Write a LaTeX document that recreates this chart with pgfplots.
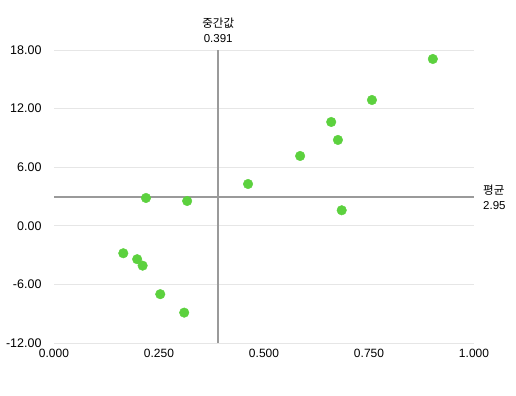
\documentclass[border=0pt]{standalone}
\usepackage{pgfplots}
\pgfplotsset{compat=1.18}
\usepackage{fontspec}
\setmainfont{Liberation Sans}
\newfontfamily\kr{Noto Sans CJK KR}
\definecolor{ptgreen}{HTML}{5CD13E}
\definecolor{refgray}{HTML}{9A9A9A}
\definecolor{gridgray}{HTML}{E6E6E6}
\begin{document}
\begin{tikzpicture}[x=1bp,y=1bp]
\useasboundingbox (0,0) rectangle (516,395);
\fill[white] (0,0) rectangle (516,395);
\begin{axis}[
  at={(54bp,52bp)}, anchor=south west,
  scale only axis, width=420bp, height=293bp,
  xmin=0, xmax=1, ymin=-12, ymax=18,
  axis line style={draw=none},
  xtick={0,0.25,0.5,0.75,1},
  xticklabels={0.000,0.250,0.500,0.750,1.000},
  ytick={-12,-6,0,6,12,18},
  yticklabels={-12.00,-6.00,0.00,6.00,12.00,18.00},
  ymajorgrids, xmajorgrids=false,
  major grid style={gridgray, line width=0.8bp},
  tick style={draw=none},
  ticklabel style={text=black},
  yticklabel style={font=\fontsize{12.5bp}{14bp}\selectfont, xshift=-9bp},
  xticklabel style={font=\fontsize{12bp}{14bp}\selectfont, yshift=-3bp},
  clip=false,
]
\addplot[refgray, line width=2bp] coordinates {(0.391,-12) (0.391,18)};
\addplot[refgray, line width=2bp] coordinates {(0,2.95) (1,2.95)};
\addplot[ptgreen, only marks, mark=*, mark size=4.8bp, mark options={draw=ptgreen, fill=ptgreen}] coordinates {
(0.902,17.08) (0.757,12.88) (0.660,10.63) (0.676,8.79) (0.586,7.15)
(0.462,4.28) (0.219,2.85) (0.317,2.54) (0.685,1.59) (0.165,-2.81)
(0.198,-3.42) (0.211,-4.08) (0.253,-7.00) (0.310,-8.89)};
\node[anchor=south, align=center, font=\fontsize{11.5bp}{15bp}\selectfont, inner sep=0pt, yshift=7bp] at (axis cs:0.391,18) {{\kr 중간값}\\0.391};
\node[anchor=west, align=left, font=\fontsize{11.5bp}{15bp}\selectfont, inner sep=0pt, xshift=9bp] at (axis cs:1,2.95) {{\kr 평균}\\2.95};
\end{axis}
\end{tikzpicture}
\end{document}
